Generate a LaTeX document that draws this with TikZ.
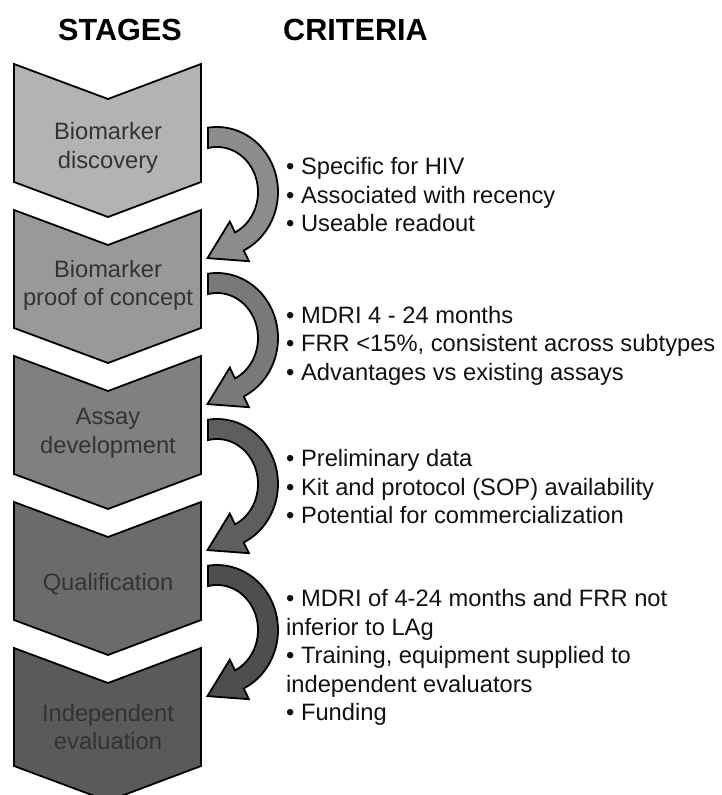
\documentclass[tikz,border=0pt]{standalone}
\usepackage{fontspec}
\setmainfont{Liberation Sans}
\definecolor{chA}{HTML}{B3B3B3}
\definecolor{chB}{HTML}{999999}
\definecolor{chC}{HTML}{808080}
\definecolor{chD}{HTML}{6B6B6B}
\definecolor{chE}{HTML}{5A5A5A}
\definecolor{arA}{HTML}{8C8C8C}
\definecolor{arB}{HTML}{797979}
\definecolor{arC}{HTML}{5E5E5E}
\definecolor{arD}{HTML}{4E4E4E}
\definecolor{stagetext}{HTML}{333333}
\definecolor{crittext}{HTML}{111111}
\tikzset{
  chevron/.style={draw=black, line width=1.8pt, line join=miter},
  bentarrow/.style={draw=black, line width=1.8pt, line join=miter},
  stagelabel/.style={inner sep=0pt, anchor=base, text=stagetext, font=\fontsize{23.7}{28.5}\selectfont},
  critlabel/.style={inner sep=0pt, anchor=base west, text=crittext, font=\fontsize{23.7}{28.5}\selectfont},
  header/.style={inner sep=0pt, anchor=base west, text=black, font=\fontsize{30.6}{36}\selectfont\bfseries}
}
% #1 = vertical offset, #2 = fill colour
\newcommand\stagechevron[2]{%
  \begin{scope}[shift={(0,#1)}]
    \draw[chevron, fill=#2] (14,64) -- (108,99) -- (201,64) -- (201,182) -- (108,217) -- (14,182) -- cycle;
  \end{scope}}
\newcommand\stagearrow[2]{%
  \begin{scope}[shift={(0,#1)}]
    \draw[bentarrow, fill=#2]
      plot[domain=98.5:-64, samples=60] ({217+61*cos(\x)},{192-65*sin(\x)})
      -- (248.9,261.2) -- (207.5,258.1) -- (229.8,221.6)
      -- plot[domain=-64:102.7, samples=60] ({217+41*cos(\x)},{192-45*sin(\x)})
      -- cycle;
  \end{scope}}
\begin{document}
\begin{tikzpicture}[x=1pt, y=-1pt]
  \useasboundingbox (0,0) rectangle (721,795);
  \clip (0,0) rectangle (721,795);
  % headers
  \node[header] (hstages) at (58,40) {STAGES};
  \node[header] (hcrit) at (283,40) {CRITERIA};
  % chevrons
  \stagechevron{0}{chA}
  \stagechevron{146}{chB}
  \stagechevron{292}{chC}
  \stagechevron{438}{chD}
  \stagechevron{584}{chE}
  % curved arrows
  \stagearrow{0}{arA}
  \stagearrow{146}{arB}
  \stagearrow{292}{arC}
  \stagearrow{438}{arD}
  % stage labels
  \node[stagelabel] (s1a) at (108,139.5) {Biomarker};
  \node[stagelabel] (s1b) at (108,168) {discovery};
  \node[stagelabel] (s2a) at (108,277) {Biomarker};
  \node[stagelabel] (s2b) at (108,305.5) {proof of concept};
  \node[stagelabel] (s3a) at (108,424.5) {Assay};
  \node[stagelabel] (s3b) at (108,453) {development};
  \node[stagelabel] (s4a) at (108,590) {Qualification};
  \node[stagelabel] (s5a) at (108,721) {Independent};
  \node[stagelabel] (s5b) at (108,749.5) {evaluation};
  % criteria
  \node[critlabel] (c1a) at (286,174.5) {• Specific for HIV};
  \node[critlabel] (c1b) at (286,203) {• Associated with recency};
  \node[critlabel] (c1c) at (286,231.5) {• Useable readout};
  \node[critlabel] (c2a) at (286,323) {• MDRI 4 - 24 months};
  \node[critlabel] (c2b) at (286,351.5) {• FRR <15\%, consistent across subtypes};
  \node[critlabel] (c2c) at (286,380) {• Advantages vs existing assays};
  \node[critlabel] (c3a) at (286,466.5) {• Preliminary data};
  \node[critlabel] (c3b) at (286,495) {• Kit and protocol (SOP) availability};
  \node[critlabel] (c3c) at (286,523.5) {• Potential for commercialization};
  \node[critlabel] (c4a) at (286,606.5) {• MDRI of 4-24 months and FRR not};
  \node[critlabel] (c4b) at (286,635) {inferior to LAg};
  \node[critlabel] (c4c) at (286,663.5) {• Training, equipment supplied to};
  \node[critlabel] (c4d) at (286,692) {independent evaluators};
  \node[critlabel] (c4e) at (286,720.5) {• Funding};
\end{tikzpicture}
\end{document}
